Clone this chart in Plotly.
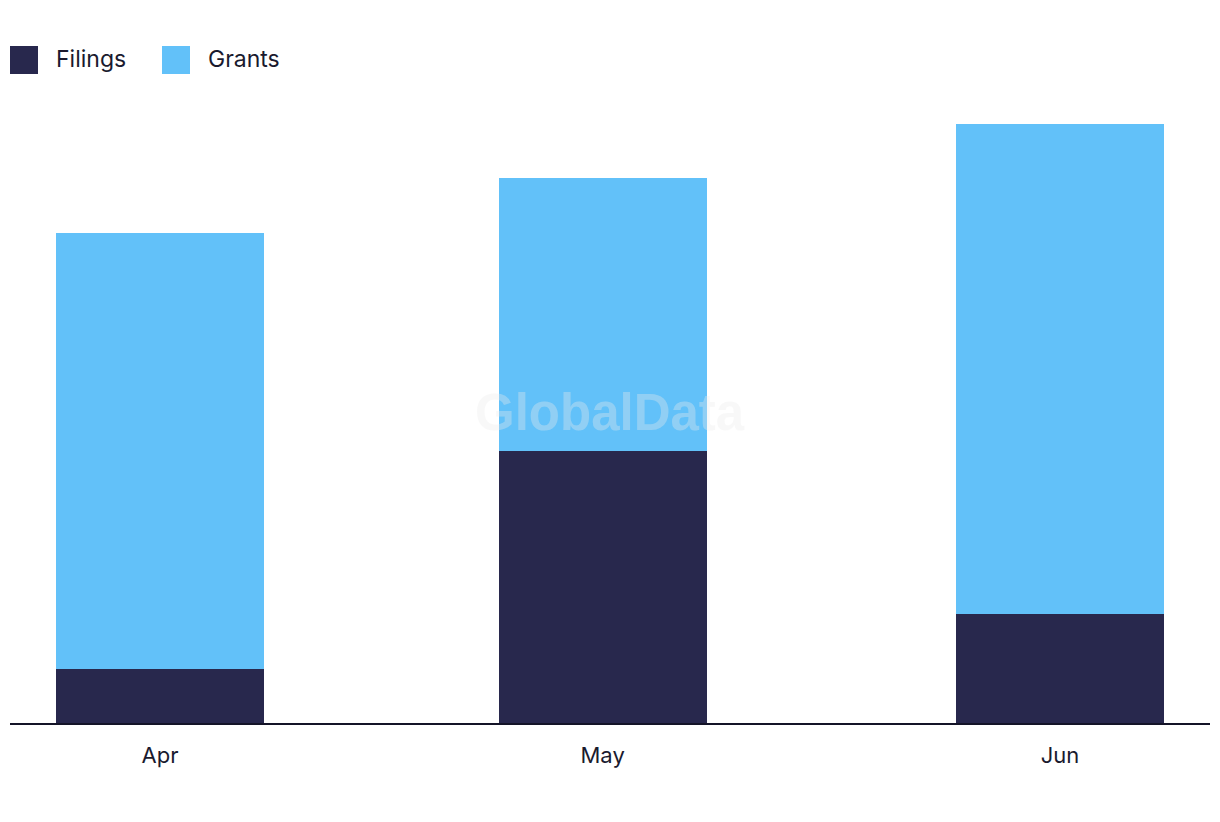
import plotly.graph_objects as go

months = ["2024-04-01", "2024-05-01", "2024-06-01"]
filings = [1, 5, 2]
grants = [8, 5, 9]
series_names = ["Filings", "Grants"]
colors = ["#28284d", "#62c1f9"]

DAY_MS = 86400000
bar_width = 14.1 * DAY_MS

fig = go.Figure()
fig.add_trace(go.Bar(x=months, y=filings, name=series_names[0], marker_color=colors[0],
                     marker_line_width=0, width=bar_width))
fig.add_trace(go.Bar(x=months, y=grants, name=series_names[1], marker_color=colors[1],
                     marker_line_width=0, width=bar_width))

font_family = "Inter, Lato, 'Noto Sans', sans-serif"

PL, PW, PB, PH = 10, 1200, 723, 599


def px_x(px):
    return (px - PL) / PW


def px_y(py):
    return (PB - py) / PH


fig.update_layout(
    barmode="stack",
    width=1220, height=822,
    margin=dict(l=10, r=10, t=124, b=99),
    paper_bgcolor="white", plot_bgcolor="white",
    showlegend=False,
    font=dict(family=font_family, color="#1a1a2e", size=22),
    xaxis=dict(
        type="date",
        range=["2024-03-21 20:00", "2024-06-11 04:00"],
        tickvals=months, tickformat="%b",
        showgrid=False, zeroline=False,
        showline=True, linecolor="#141428", linewidth=2,
        ticks="", tickfont=dict(size=22, color="#1a1a2e"),
        ticklabelstandoff=12,
    ),
    yaxis=dict(range=[0, 11], visible=False, showgrid=False),
)

# legend (custom, to match large square swatches)
legend_x = [10, 162]
for i, (nm, c) in enumerate(zip(series_names, colors)):
    fig.add_shape(type="rect", xref="paper", yref="paper",
                  x0=px_x(legend_x[i]), x1=px_x(legend_x[i] + 28),
                  y0=px_y(74), y1=px_y(46),
                  fillcolor=c, line_width=0)
    fig.add_annotation(xref="paper", yref="paper", x=px_x(legend_x[i] + 44),
                       y=px_y(59), text=nm, showarrow=False,
                       xanchor="left", yanchor="middle",
                       font=dict(size=23, color="#1a1a2e", family=font_family))

# watermark
fig.add_annotation(xref="paper", yref="paper", x=px_x(610), y=px_y(412),
                   text="<b>GlobalData</b>", showarrow=False,
                   font=dict(size=51, color="rgba(235,235,235,0.35)",
                             family="Arial, Liberation Sans, sans-serif"),
                   xanchor="center", yanchor="middle")

fig.write_html("out.html")
